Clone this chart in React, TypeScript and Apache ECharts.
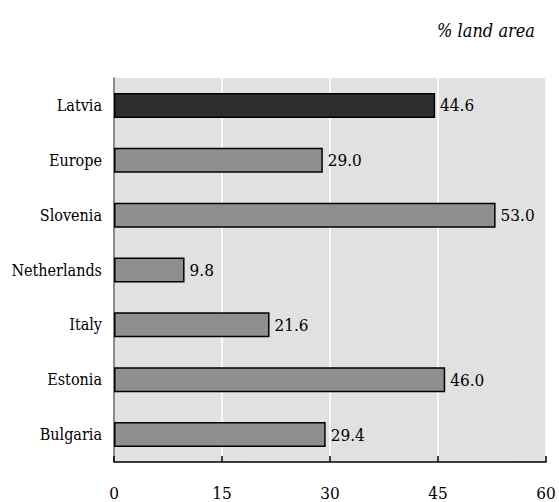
import React, { useEffect, useRef } from "react";
import * as echarts from "echarts";

// Share of land area by country
const categories = ["Latvia", "Europe", "Slovenia", "Netherlands", "Italy", "Estonia", "Bulgaria"];
const values = [44.6, 29.0, 53.0, 9.8, 21.6, 46.0, 29.4];
const highlighted = "Latvia";
const axisTicks = [0, 15, 30, 45, 60];
const unitLabel = "% land area";

const FONT = "DejaVu Serif Condensed";

export default function App() {
  const ref = useRef<HTMLDivElement>(null);

  useEffect(() => {
    if (!ref.current) return;
    const chart = echarts.init(ref.current, undefined, { renderer: "svg" });

    // categories are listed top-to-bottom; the category axis runs bottom-up
    const cats = [...categories].reverse();
    const vals = [...values].reverse();

    chart.setOption({
      animation: false,
      backgroundColor: "#ffffff",
      textStyle: { fontFamily: FONT },
      title: {
        text: unitLabel,
        right: 19,
        top: 16,
        textStyle: {
          fontFamily: FONT,
          fontStyle: "italic",
          fontWeight: "normal",
          fontSize: 18,
          color: "#000",
        },
      },
      grid: {
        left: 114,
        right: 13,
        top: 78,
        bottom: 40,
        show: true,
        backgroundColor: "#e1e1e1",
        borderWidth: 0,
      },
      xAxis: {
        type: "value",
        min: axisTicks[0],
        max: axisTicks[axisTicks.length - 1],
        interval: axisTicks[1] - axisTicks[0],
        axisLine: { show: true, lineStyle: { color: "#000", width: 1.5 } },
        axisTick: { show: true, inside: true, length: 6, lineStyle: { color: "#000", width: 1.5 } },
        axisLabel: { color: "#000", fontSize: 17, fontFamily: FONT, margin: 22 },
        splitLine: { show: true, lineStyle: { color: "#ffffff", width: 1.5 } },
      },
      yAxis: {
        type: "category",
        data: cats,
        axisLine: { show: true, lineStyle: { color: "#666", width: 1.5 } },
        axisTick: { show: false },
        axisLabel: { color: "#000", fontSize: 16, fontFamily: FONT, margin: 12 },
        splitLine: { show: false },
      },
      series: [
        {
          type: "bar",
          barWidth: 25,
          data: vals.map((v, i) => ({
            value: v,
            itemStyle: {
              color: cats[i] === highlighted ? "#2e2e2e" : "#8f8f8f",
              borderColor: "#000",
              borderWidth: 1.5,
            },
          })),
          label: {
            show: true,
            position: "right",
            distance: 5,
            color: "#000",
            fontSize: 17,
            fontFamily: FONT,
            formatter: (p: any) => Number(p.value).toFixed(1),
          },
        },
      ],
    });

    return () => chart.dispose();
  }, []);

  return (
    <div
      ref={ref}
      style={{ position: "fixed", left: 0, top: 0, width: 559, height: 502 }}
    />
  );
}
